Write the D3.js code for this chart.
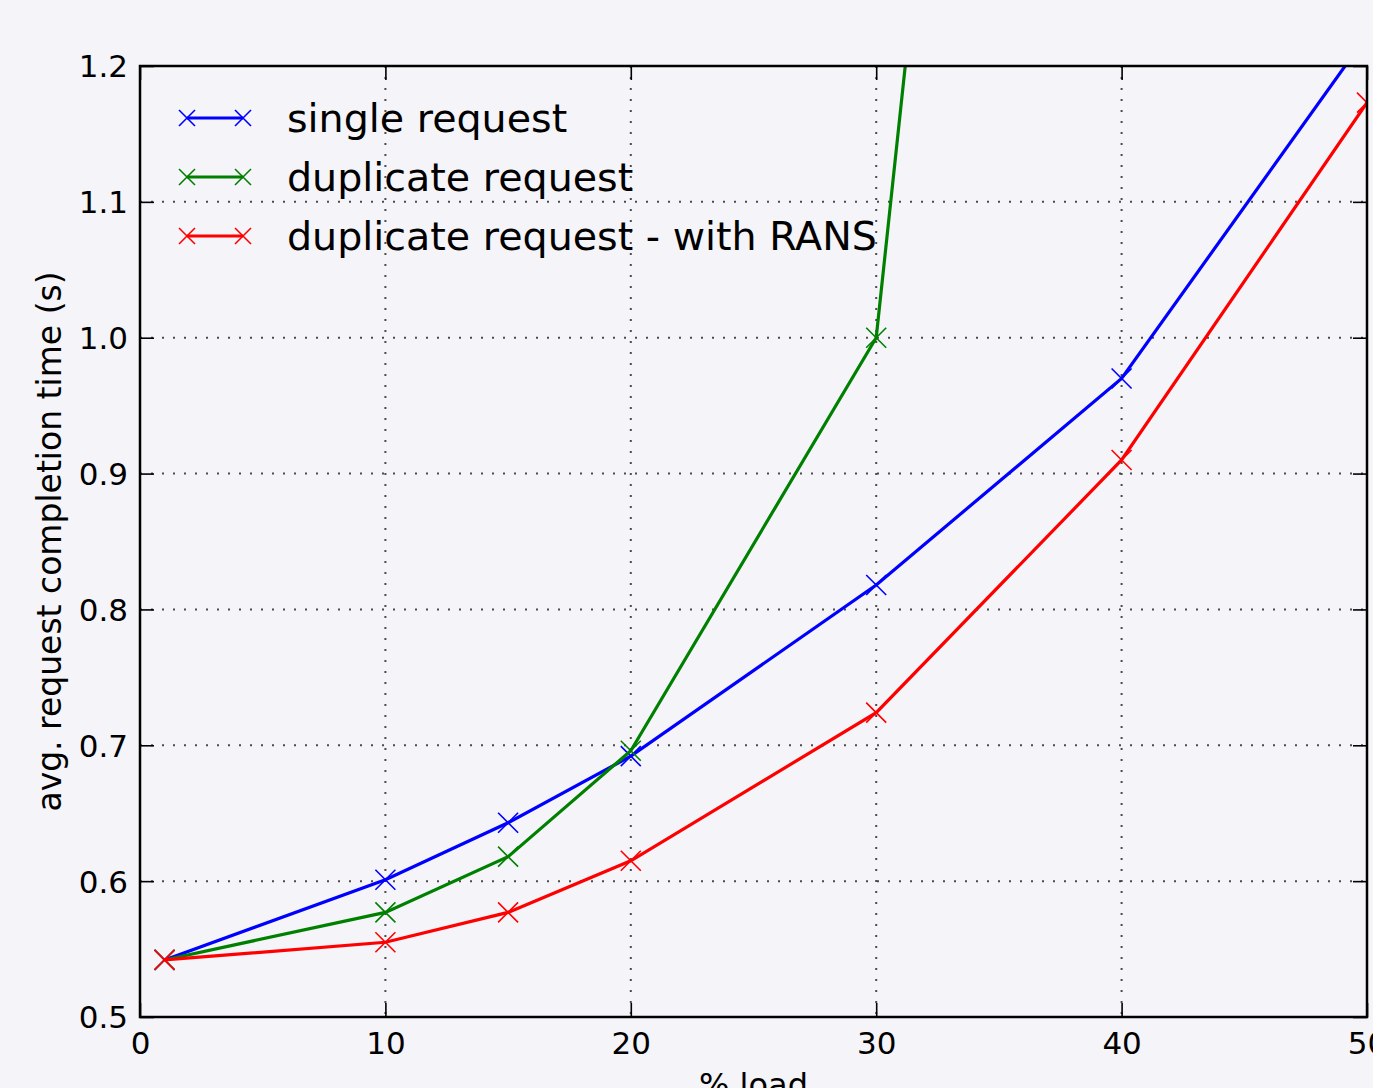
<!DOCTYPE html>
<html>
<head>
<meta charset="utf-8">
<script src="https://cdn.jsdelivr.net/npm/d3@7"></script>
<style>
  html, body { margin: 0; padding: 0; background: #f5f4f9; }
  svg { display: block; font-family: "DejaVu Sans", sans-serif; }
</style>
</head>
<body>
<svg id="chart" width="1373" height="1088"></svg>
<script>
const loads = [1, 10, 15, 20, 30, 40, 50];
const singleRequest = [0.542, 0.601, 0.643, 0.692, 0.818, 0.970, 1.2225];
const duplicateLoads = [1, 10, 15, 20, 30, 40];
const duplicateRequest = [0.542, 0.577, 0.618, 0.696, 1.000, 2.69];
const duplicateRans = [0.542, 0.555, 0.577, 0.615, 0.724, 0.910, 1.173];
const seriesNames = ["single request", "duplicate request", "duplicate request - with RANS"];
const seriesColors = ["#0000ff", "#008000", "#ff0000"];
const xTicks = [0, 10, 20, 30, 40, 50];
const yTicks = [0.5, 0.6, 0.7, 0.8, 0.9, 1.0, 1.1, 1.2];

(function () {
const series = [
  { name: seriesNames[0], color: seriesColors[0], pts: loads.map((v, i) => [v, singleRequest[i]]) },
  { name: seriesNames[1], color: seriesColors[1], pts: duplicateLoads.map((v, i) => [v, duplicateRequest[i]]) },
  { name: seriesNames[2], color: seriesColors[2], pts: loads.map((v, i) => [v, duplicateRans[i]]) }
];

const svg = d3.select("#chart");
const pL = 140, pR = 1367, pT = 66, pB = 1017;
const x = d3.scaleLinear().domain([0, 50]).range([pL, pR]);
const y = d3.scaleLinear().domain([0.5, 1.2]).range([pB, pT]);

svg.append("rect").attr("width", 1373).attr("height", 1088).attr("fill", "#f5f4f9");

svg.append("defs").append("clipPath").attr("id", "clip")
  .append("rect").attr("x", pL).attr("y", pT).attr("width", pR - pL).attr("height", pB - pT);

// grid
const grid = svg.append("g");
grid.selectAll("line.gx").data(xTicks.slice(1, -1)).join("line").attr("class", "gx")
  .attr("x1", d => x(d)).attr("x2", d => x(d)).attr("y1", pT).attr("y2", pB)
  .attr("stroke", "#222").attr("stroke-width", 2).attr("stroke-dasharray", "2,9").attr("stroke-opacity", 0.8);
grid.selectAll("line.gy").data(yTicks.slice(1, -1)).join("line").attr("class", "gy")
  .attr("y1", d => y(d)).attr("y2", d => y(d)).attr("x1", pL).attr("x2", pR)
  .attr("stroke", "#222").attr("stroke-width", 2).attr("stroke-dasharray", "2,9").attr("stroke-opacity", 0.8);

// lines
const line = d3.line().x(d => x(d[0])).y(d => y(d[1]));
const plot = svg.append("g").attr("clip-path", "url(#clip)");
series.forEach(s => {
  plot.append("path").datum(s.pts).attr("d", line)
    .attr("fill", "none").attr("stroke", s.color).attr("stroke-width", 3.2);
  const m = 10;
  plot.selectAll(null).data(s.pts).join("path")
    .attr("d", d => `M${x(d[0]) - m},${y(d[1]) - m}L${x(d[0]) + m},${y(d[1]) + m}M${x(d[0]) - m},${y(d[1]) + m}L${x(d[0]) + m},${y(d[1]) - m}`)
    .attr("stroke", s.color).attr("stroke-width", 1.6).attr("fill", "none");
});

// axes
const tickLen = 14;
const axB = svg.append("g").attr("transform", `translate(0,${pB})`)
  .call(d3.axisBottom(x).tickValues(xTicks).tickFormat(d3.format("d")).tickSizeInner(-tickLen).tickSizeOuter(0).tickPadding(14));
const axT = svg.append("g").attr("transform", `translate(0,${pT})`)
  .call(d3.axisTop(x).tickValues(xTicks).tickFormat("").tickSizeInner(-tickLen).tickSizeOuter(0));
const axL = svg.append("g").attr("transform", `translate(${pL},0)`)
  .call(d3.axisLeft(y).tickValues(yTicks).tickFormat(d3.format(".1f")).tickSizeInner(-tickLen).tickSizeOuter(0).tickPadding(12));
const axR = svg.append("g").attr("transform", `translate(${pR},0)`)
  .call(d3.axisRight(y).tickValues(yTicks).tickFormat("").tickSizeInner(-tickLen).tickSizeOuter(0));
[axB, axT, axL, axR].forEach(a => {
  a.select(".domain").remove();
  a.selectAll(".tick line").attr("stroke", "#000").attr("stroke-width", 1.6);
  a.selectAll(".tick text").attr("fill", "#000").attr("font-size", 31).attr("font-family", "DejaVu Sans");
});
axL.selectAll(".tick text").attr("dy", "0.35em");
axB.selectAll(".tick text").attr("dy", "0.75em");

svg.append("rect").attr("x", pL).attr("y", pT).attr("width", pR - pL).attr("height", pB - pT)
  .attr("fill", "none").attr("stroke", "#000").attr("stroke-width", 2.5);

// labels
svg.append("text").attr("transform", `translate(61,${(pT + pB) / 2}) rotate(-90)`)
  .attr("text-anchor", "middle").attr("font-size", 33).attr("fill", "#000").text("avg. request completion time (s)");
svg.append("text").attr("x", (pL + pR) / 2).attr("y", 1096)
  .attr("text-anchor", "middle").attr("font-size", 32).attr("fill", "#000").text("% load");

// legend
const leg = svg.append("g");
series.forEach((s, i) => {
  const cy = 118 + i * 59;
  leg.append("line").attr("x1", 187).attr("x2", 243).attr("y1", cy).attr("y2", cy)
    .attr("stroke", s.color).attr("stroke-width", 3.2);
  [187, 243].forEach(cx => {
    leg.append("path").attr("d", `M${cx - 8},${cy - 8}L${cx + 8},${cy + 8}M${cx - 8},${cy + 8}L${cx + 8},${cy - 8}`)
      .attr("stroke", s.color).attr("stroke-width", 1.6);
  });
  leg.append("text").attr("x", 287).attr("y", cy).attr("dy", "0.35em")
    .attr("font-size", 39.6).attr("fill", "#000").text(s.name);
});
})();
</script>
</body>
</html>
